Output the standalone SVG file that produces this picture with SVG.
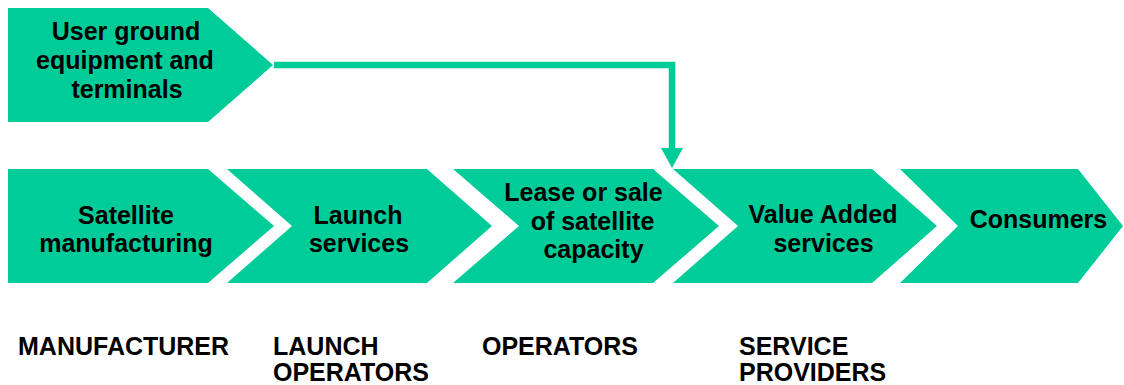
<svg xmlns="http://www.w3.org/2000/svg" width="1124" height="385" viewBox="0 0 1124 385">
  <style>
    .shape { fill: #00CC99; stroke: none; }
    .lbl { font-family: "Liberation Sans", Arial, sans-serif; font-weight: bold; font-size: 25px; fill: #000000; text-anchor: middle; }
    .role { font-family: "Liberation Sans", Arial, sans-serif; font-weight: bold; font-size: 25px; fill: #000000; text-anchor: start; }
    .conn { fill: none; stroke: #00CC99; stroke-width: 6.5; stroke-linejoin: miter; }
  </style>
  <defs>
    <marker id="arrow" markerUnits="userSpaceOnUse" markerWidth="20" markerHeight="22" refX="4" refY="11" orient="auto">
      <path d="M0,0 L20,11 L0,22 Z" fill="#00CC99"/>
    </marker>
  </defs>
  <rect width="1124" height="385" fill="#FFFFFF"/>

  <g id="node-user-ground">
    <polygon class="shape" points="8,8 208,8 273,65 208,122 8,122"/>
    <text class="lbl" x="126" y="40">User ground</text>
    <text class="lbl" x="125" y="69">equipment and</text>
    <text class="lbl" x="127" y="98">terminals</text>
  </g>

  <g id="node-satellite-manufacturing">
    <polygon class="shape" points="8,169 208,169 274,226 208,283 8,283"/>
    <text class="lbl" x="126" y="224">Satellite</text>
    <text class="lbl" x="126" y="252">manufacturing</text>
  </g>

  <g id="node-launch-services">
    <polygon class="shape" points="227,169 427,169 492,226 427,283 227,283 292,226"/>
    <text class="lbl" x="358" y="224">Launch</text>
    <text class="lbl" x="359" y="252">services</text>
  </g>

  <g id="node-lease-sale">
    <polygon class="shape" points="453,169 653,169 719,226 653,283 453,283 519,226"/>
    <text class="lbl" x="583.5" y="201">Lease or sale</text>
    <text class="lbl" x="592.5" y="230">of satellite</text>
    <text class="lbl" x="593.5" y="258">capacity</text>
  </g>

  <g id="node-value-added">
    <polygon class="shape" points="673,169 872,169 937,226 872,283 673,283 738,226"/>
    <text class="lbl" x="823" y="223">Value Added</text>
    <text class="lbl" x="823.5" y="252">services</text>
  </g>

  <g id="node-consumers">
    <polygon class="shape" points="900,169 1078,169 1123,226 1078,283 900,283 958,226"/>
    <text class="lbl" x="1038.5" y="228">Consumers</text>
  </g>

  <g id="roles">
    <text class="role" x="18" y="355">MANUFACTURER</text>
    <text class="role" x="273" y="355">LAUNCH</text>
    <text class="role" x="273" y="381">OPERATORS</text>
    <text class="role" x="482" y="355">OPERATORS</text>
    <text class="role" x="739" y="355">SERVICE</text>
    <text class="role" x="739" y="381">PROVIDERS</text>
  </g>

  <g id="connectors">
    <polyline class="conn" points="274,65 672,65 672,152" marker-end="url(#arrow)"/>
  </g>
</svg>
